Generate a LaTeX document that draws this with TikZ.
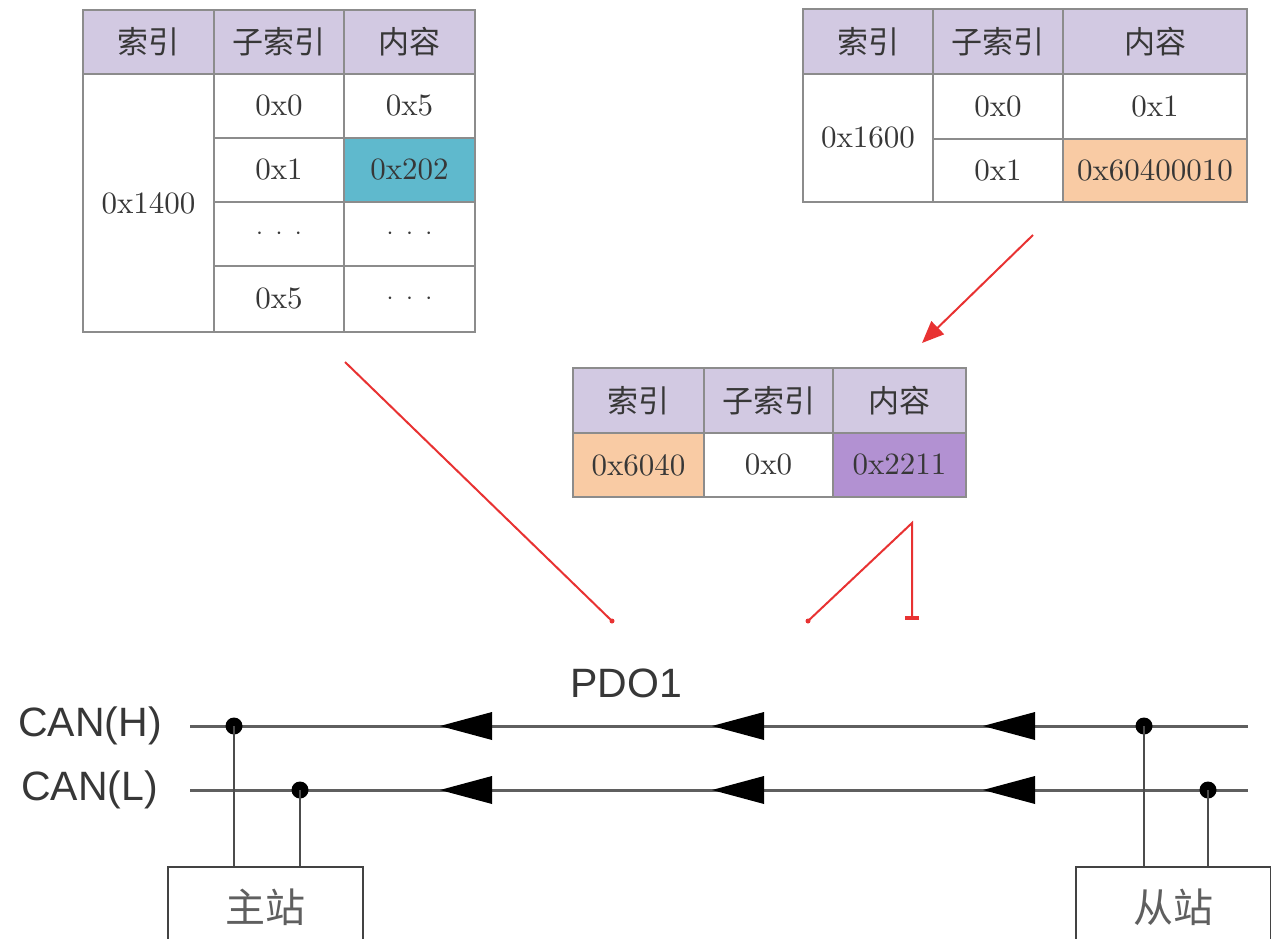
\documentclass[tikz,border=0pt]{standalone}
\usepackage{fontspec}
\setmainfont{lmroman10-regular.otf}
\newfontfamily\cjk{Noto Sans CJK SC}
\newfontfamily\arial{Liberation Sans}
\usetikzlibrary{arrows.meta}

\definecolor{hdrcol}{RGB}{210,201,226}
\definecolor{cyancell}{RGB}{95,185,205}
\definecolor{orangecell}{RGB}{249,203,164}
\definecolor{purplecell}{RGB}{178,145,210}
\definecolor{gridgray}{RGB}{140,140,140}
\definecolor{textgray}{RGB}{55,55,55}
\definecolor{busgray}{RGB}{95,95,95}
\definecolor{linkred}{RGB}{232,50,50}

\tikzset{
  cell/.style={draw=gridgray, line width=1.5pt, inner sep=0pt, text=textgray,
    font=\fontsize{31}{36}\selectfont},
  bus/.style={draw=busgray, line width=3pt},
  tap/.style={draw=busgray!80!black, line width=2pt},
  dot/.style={circle, fill=black, inner sep=0pt, minimum size=17pt},
  station/.style={draw=busgray!70!black, line width=2pt, minimum width=195pt,
    minimum height=80pt, text=busgray, font=\cjk\fontsize{40}{44}\selectfont},
  canlabel/.style={inner sep=0pt, text=textgray, font=\arial\fontsize{41}{46}\selectfont},
  redline/.style={draw=linkred, line width=2pt},
}

% name, x0, y0, x1, y1, fill, text
\newcommand\tabcell[7]{%
  \node[cell, fill=#6, minimum width={(#4-#2)*1pt}, minimum height={(#5-#3)*1pt}]
    (#1) at ({(#2+#4)/2},{(#3+#5)/2}) {#7};}
\newcommand\gap{$\cdot\;\cdot\;\cdot$}

\begin{document}
\begin{tikzpicture}[x=1pt, y=-1pt]
  \useasboundingbox (0,0) rectangle (1271,939);
  \clip (0,0) rectangle (1271,939);

  % table 0x1400
  \tabcell{ta-h1}{83}{10}{214}{74}{hdrcol}{\cjk 索引}
  \tabcell{ta-h2}{214}{10}{344}{74}{hdrcol}{\cjk 子索引}
  \tabcell{ta-h3}{344}{10}{475}{74}{hdrcol}{\cjk 内容}
  \tabcell{ta-idx}{83}{74}{214}{332}{white}{0x1400}
  \tabcell{ta-s0}{214}{74}{344}{138}{white}{0x0}
  \tabcell{ta-c0}{344}{74}{475}{138}{white}{0x5}
  \tabcell{ta-s1}{214}{138}{344}{202}{white}{0x1}
  \tabcell{ta-c1}{344}{138}{475}{202}{cyancell}{0x202}
  \tabcell{ta-s2}{214}{202}{344}{266}{white}{\gap}
  \tabcell{ta-c2}{344}{202}{475}{266}{white}{\gap}
  \tabcell{ta-s3}{214}{266}{344}{332}{white}{0x5}
  \tabcell{ta-c3}{344}{266}{475}{332}{white}{\gap}

  % table 0x1600
  \tabcell{tb-h1}{803}{9}{933}{74}{hdrcol}{\cjk 索引}
  \tabcell{tb-h2}{933}{9}{1063}{74}{hdrcol}{\cjk 子索引}
  \tabcell{tb-h3}{1063}{9}{1247}{74}{hdrcol}{\cjk 内容}
  \tabcell{tb-idx}{803}{74}{933}{202}{white}{0x1600}
  \tabcell{tb-s0}{933}{74}{1063}{139}{white}{0x0}
  \tabcell{tb-c0}{1063}{74}{1247}{139}{white}{0x1}
  \tabcell{tb-s1}{933}{139}{1063}{202}{white}{0x1}
  \tabcell{tb-c1}{1063}{139}{1247}{202}{orangecell}{0x60400010}

  % table 0x6040
  \tabcell{tc-h1}{573}{368}{704}{433}{hdrcol}{\cjk 索引}
  \tabcell{tc-h2}{704}{368}{833}{433}{hdrcol}{\cjk 子索引}
  \tabcell{tc-h3}{833}{368}{966}{433}{hdrcol}{\cjk 内容}
  \tabcell{tc-idx}{573}{433}{704}{497}{orangecell}{0x6040}
  \tabcell{tc-s0}{704}{433}{833}{497}{white}{0x0}
  \tabcell{tc-c0}{833}{433}{966}{497}{purplecell}{0x2211}

  % red links
  \coordinate (r1s) at (1033,235);
  \coordinate (r1e) at (922,343);
  \coordinate (r2s) at (345,362);
  \coordinate (r2e) at (612,621);
  \coordinate (r3s) at (808,621);
  \coordinate (r3m) at (912,523);
  \coordinate (r3e) at (912,620);
  \draw[redline, -{Triangle[length=22pt, width=18pt]}] (r1s) -- (r1e);
  \draw[redline] (r2s) -- (r2e);
  \fill[linkred] (r2e) circle (2.5);
  \fill[linkred] (r3s) circle (2.5);
  \draw[redline, -{Bar[width=14pt, line width=4pt]}] (r3s) -- (r3m) -- (r3e);

  % CAN bus
  \node[canlabel, anchor=east] (canh) at (162,726) {CAN(H)};
  \node[canlabel, anchor=east] (canl) at (158,790) {CAN(L)};
  \node[canlabel] (pdo) at (626,683) {PDO1};
  \coordinate (hl) at (190,726);
  \coordinate (hr) at (1248,726);
  \coordinate (ll) at (190,790);
  \coordinate (lr) at (1248,790);
  \draw[bus] (hl) -- (hr);
  \draw[bus] (ll) -- (lr);
  \foreach \x in {440,712,983} {
    \fill (\x,726) -- (\x+52,712) -- (\x+52,740) -- cycle;
    \fill (\x,790) -- (\x+52,776) -- (\x+52,804) -- cycle;
  }

  % stations
  \node[station, anchor=north] (master) at (265.5,866) {主站};
  \node[station, anchor=north] (slave) at (1173.5,866) {从站};
  \node[dot] (mh) at (234,726) {};
  \node[dot] (ml) at (300,790) {};
  \node[dot] (sh) at (1144,726) {};
  \node[dot] (sl) at (1208,790) {};
  \draw[tap] (mh.center) -- (mh |- master.north);
  \draw[tap] (ml.center) -- (ml |- master.north);
  \draw[tap] (sh.center) -- (sh |- slave.north);
  \draw[tap] (sl.center) -- (sl |- slave.north);
\end{tikzpicture}
\end{document}
